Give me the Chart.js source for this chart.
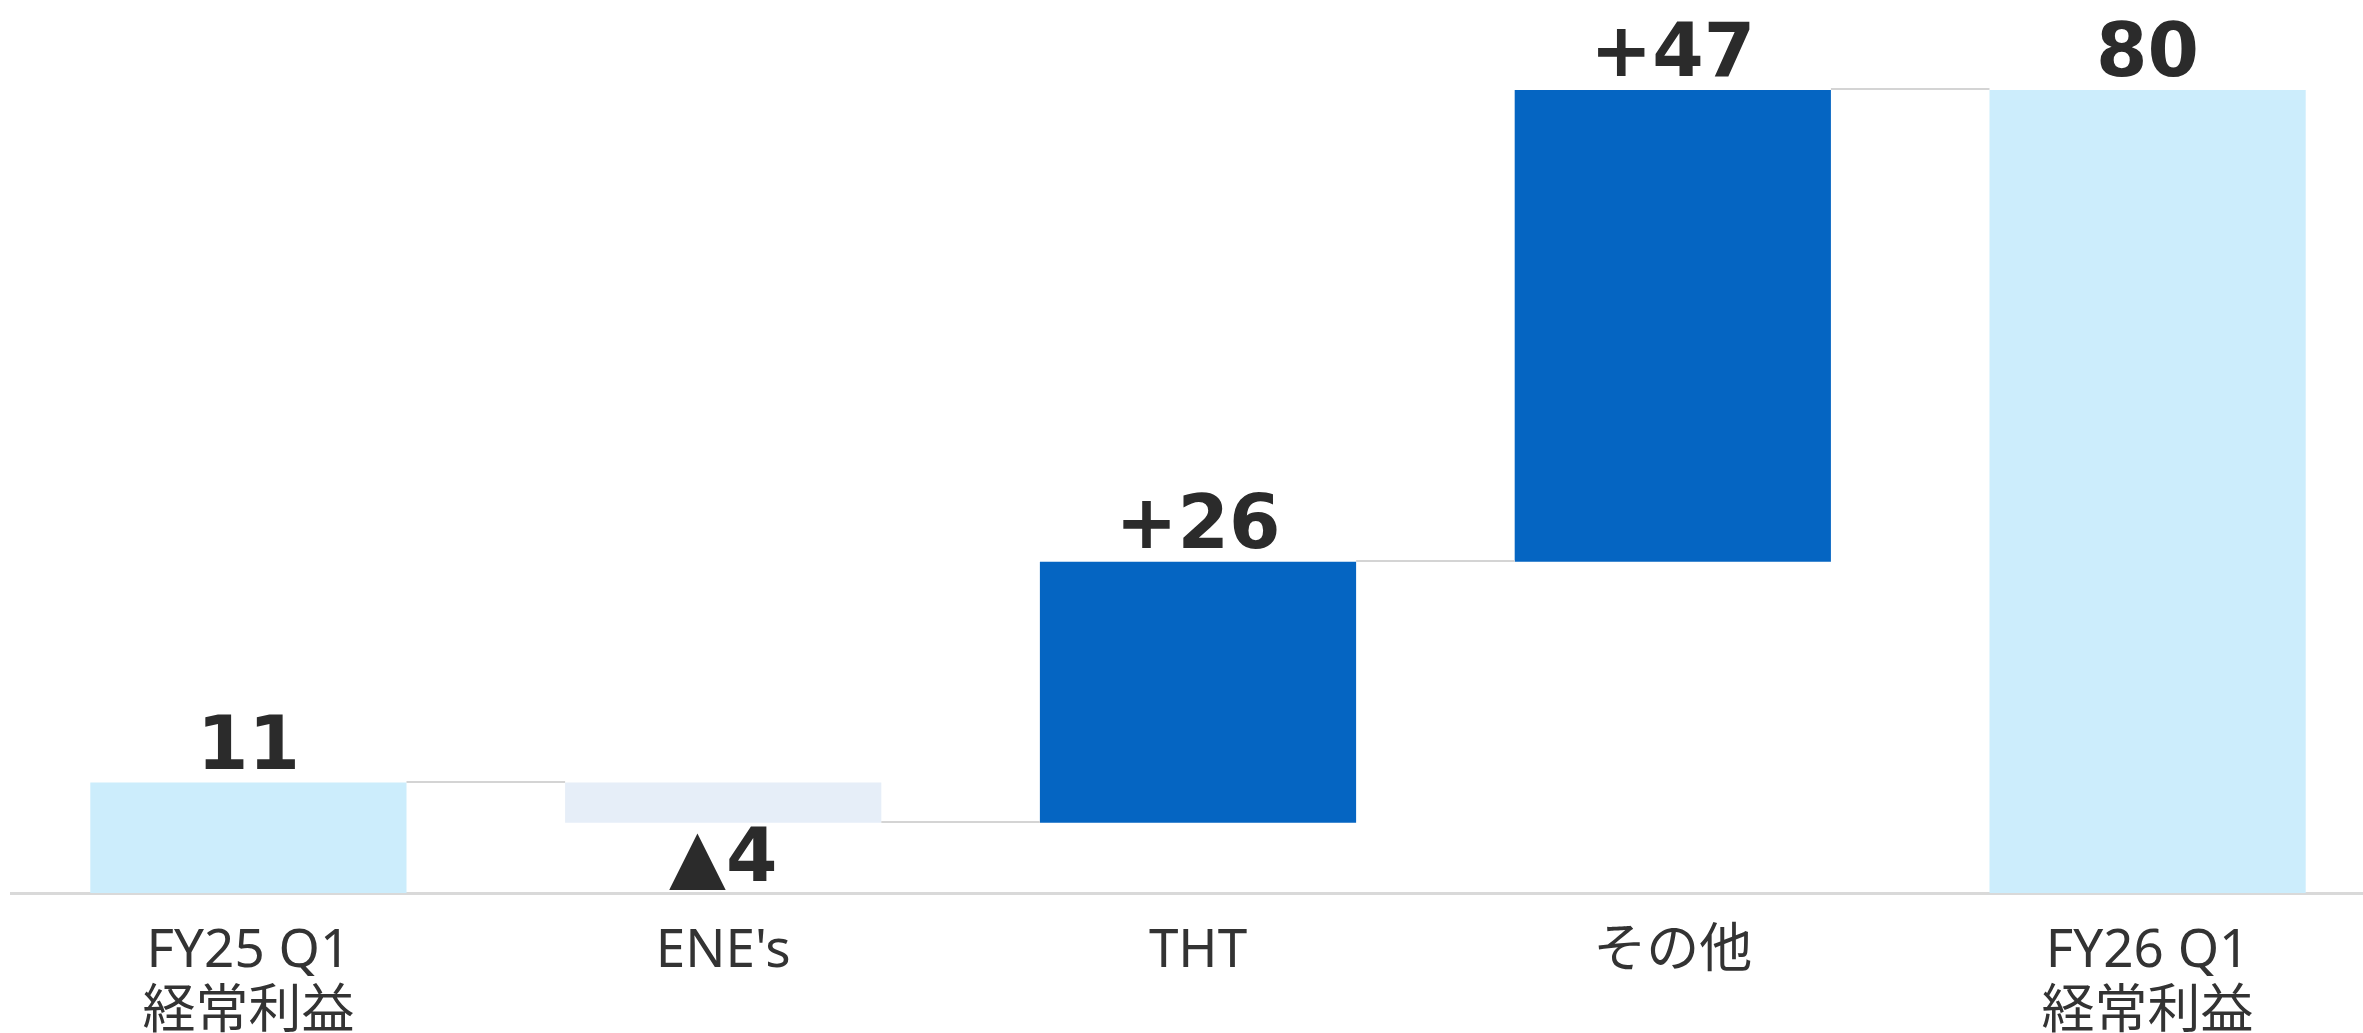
<!DOCTYPE html>
<html><head><meta charset="utf-8">
<script src="https://cdn.jsdelivr.net/npm/chart.js@4"></script>
<style>
html,body{margin:0;padding:0;background:#fff;overflow:hidden;width:2363px;height:1033px}
#wrap{position:relative;width:2363px;height:1033px;overflow:hidden}
canvas{display:block}
</style></head>
<body><div id="wrap"><canvas id="c" width="2400" height="1033" style="width:2400px;height:1033px"></canvas></div>
<script>
const categories = [['FY25 Q1','経常利益'], "ENE's", 'THT', 'その他', ['FY26 Q1','経常利益']];
const barStart = [0, 7, 7, 33, 0];
const barEnd = [11, 11, 33, 80, 80];
const valueLabels = ['11', '▲4', '+26', '+47', '80'];
const labelBelow = [false, true, false, false, false];
const connectorLevels = [11, 7, 33, 80];
const barColors = ['#CCEDFC', '#E6EEF8', '#0565C2', '#0565C2', '#CCEDFC'];

const floatingData = barStart.map((s, i) => [s, barEnd[i]]);

const waterfallPlugin = {
  id: 'waterfall',
  afterDatasetsDraw(chart) {
    const ctx = chart.ctx;
    const meta = chart.getDatasetMeta(0);
    const y = chart.scales.y;
    ctx.save();
    ctx.strokeStyle = '#D4D4D4';
    ctx.lineWidth = 2;
    for (let i = 0; i < meta.data.length - 1; i++) {
      const a = meta.data[i], b = meta.data[i + 1];
      const py = Math.round(y.getPixelForValue(connectorLevels[i])) - 1;
      ctx.beginPath();
      ctx.moveTo(a.x + a.width / 2, py);
      ctx.lineTo(b.x - b.width / 2, py);
      ctx.stroke();
    }
    const fs = 74;
    ctx.font = 'bold ' + fs + 'px "DejaVu Sans"';
    ctx.fillStyle = '#2B2B2B';
    ctx.textAlign = 'center';
    ctx.textBaseline = 'alphabetic';
    meta.data.forEach((el, i) => {
      let ty;
      if (labelBelow[i]) {
        ty = y.getPixelForValue(barStart[i]) + 4 + fs * 0.729;
      } else {
        ty = y.getPixelForValue(barEnd[i]) - 14;
      }
      ctx.fillText(valueLabels[i], el.x, ty);
    });
    ctx.restore();
  }
};

new Chart(document.getElementById('c'), {
  type: 'bar',
  data: {
    labels: categories,
    datasets: [{
      data: floatingData,
      backgroundColor: barColors,
      borderWidth: 0,
      categoryPercentage: 1,
      barPercentage: 0.666
    }]
  },
  options: {
    responsive: false,
    animation: false,
    layout: { padding: { left: 11, right: 15, top: 90, bottom: 0 } },
    plugins: { legend: { display: false }, tooltip: { enabled: false } },
    scales: {
      x: {
        grid: { display: false, drawTicks: false },
        border: { display: true, color: '#D9D9D9', width: 3 },
        ticks: {
          color: '#333333',
          padding: 28,
          font: { family: '"Noto Sans", "Noto Sans CJK JP"', size: 53, lineHeight: 1.15 },
          maxRotation: 0, autoSkip: false
        },
        afterFit(scale) { scale.height = 140; }
      },
      y: {
        display: false,
        min: 0, max: 80
      }
    }
  },
  plugins: [waterfallPlugin]
});
</script>
</body></html>
